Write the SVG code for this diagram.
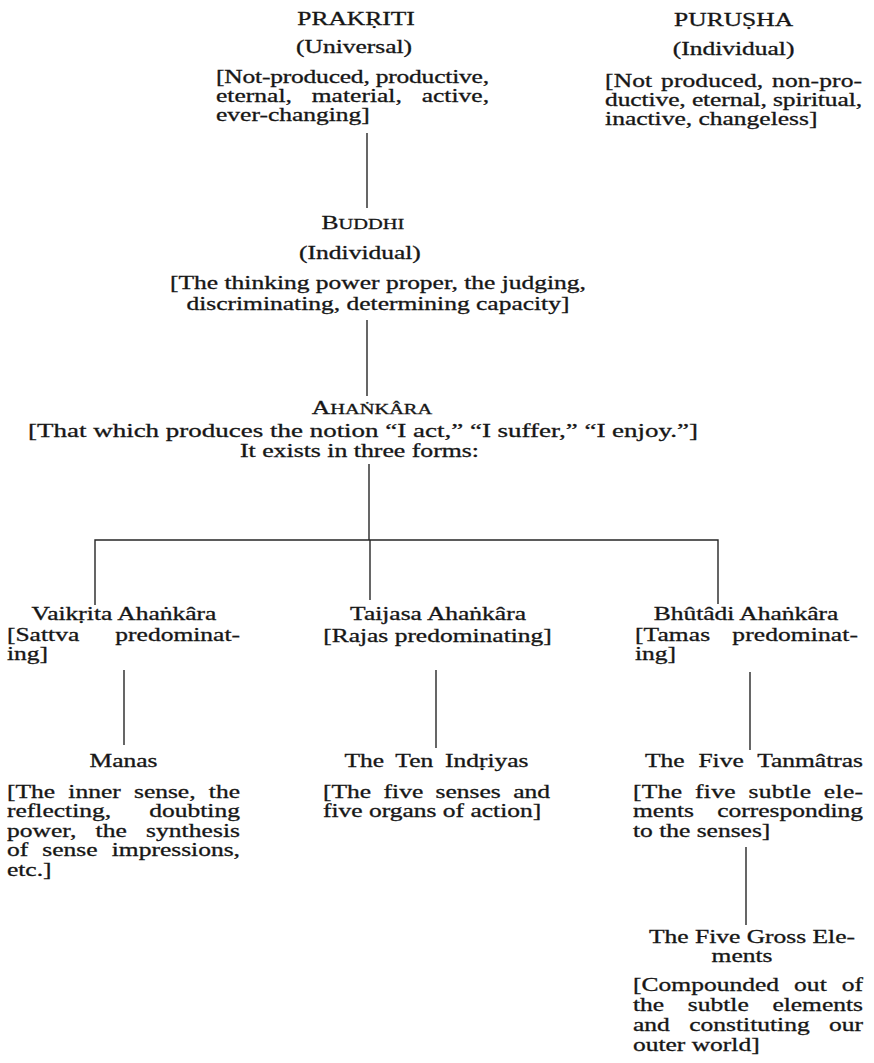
<svg xmlns="http://www.w3.org/2000/svg" width="874" height="1063" viewBox="0 0 874 1063">
<style>
text { font-family: "Liberation Serif", "DejaVu Serif", serif; font-size: 18px; fill: #161616; stroke: #161616; stroke-width: 0.3; }
.c { text-anchor: middle; }
.sc { font-size: 14.4px; }
.cond { font-size: 19px; }
#connectors path { stroke: #262626; stroke-width: 1.4; fill: none; }
</style>
<rect width="874" height="1063" fill="#ffffff"/>
<g id="connectors">
<path d="M367 133V208"/>
<path d="M367 320V396"/>
<path d="M369 464V540"/>
<path d="M95 605V540H718V604"/>
<path d="M370 540V600"/>
<path d="M124 670V745"/>
<path d="M436 670V748"/>
<path d="M750 672V750"/>
<path d="M746 847V925"/>
</g>
<g id="prakriti" transform="scale(1.4167 1)">
<text class="c" x="251.3" y="25">PRAKṚITI</text>
<text class="c" x="249.9" y="53">(Universal)</text>
<text x="152.5" y="83" textLength="192.7" lengthAdjust="spacing">[Not-produced, productive,</text>
<text x="152.5" y="102" textLength="192.7" lengthAdjust="spacing" word-spacing="9.5">eternal, material, active,</text>
<text x="152.5" y="121">ever-changing]</text>
</g>
<g id="purusha" transform="scale(1.4167 1)">
<text class="c" x="517.8" y="26">PURUṢHA</text>
<text class="c" x="517.8" y="55">(Individual)</text>
<text x="427.1" y="87" textLength="181.4" lengthAdjust="spacing" word-spacing="1.6">[Not produced, non-pro-</text>
<text x="427.1" y="106" textLength="181.4" lengthAdjust="spacing">ductive, eternal, spiritual,</text>
<text x="427.1" y="125">inactive, changeless]</text>
</g>
<g id="buddhi" transform="scale(1.4167 1)">
<text class="c" x="256.2" y="229">B<tspan class="sc">UDDHI</tspan></text>
<text class="c" x="254.1" y="259">(Individual)</text>
<text class="c" x="266.8" y="289">[The thinking power proper, the judging,</text>
<text class="c" x="266.8" y="310">discriminating, determining capacity]</text>
</g>
<g id="ahankara" transform="scale(1.4167 1)">
<text class="c" x="262.6" y="414">A<tspan class="sc">HAṄKÂRA</tspan></text>
<text class="cond" x="19.8" y="437" textLength="472.9" lengthAdjust="spacingAndGlyphs">[That which produces the notion “I act,” “I suffer,” “I enjoy.”]</text>
<text x="169.4" y="457" textLength="168.7" lengthAdjust="spacingAndGlyphs">It exists in three forms:</text>
</g>
<g id="vaikrita" transform="scale(1.4167 1)">
<text class="c" x="87.5" y="620">Vaikṛita Ahaṅkâra</text>
<text x="4.9" y="641" textLength="164.5" lengthAdjust="spacing" word-spacing="21">[Sattva predominat-</text>
<text x="4.9" y="660">ing]</text>
</g>
<g id="taijasa" transform="scale(1.4167 1)">
<text class="c" x="309.2" y="620">Taijasa Ahaṅkâra</text>
<text class="c" x="308.8" y="642">[Rajas predominating]</text>
</g>
<g id="bhutadi" transform="scale(1.4167 1)">
<text class="c" x="526.6" y="620">Bhûtâdi Ahaṅkâra</text>
<text x="448.2" y="641" textLength="157.4" lengthAdjust="spacing" word-spacing="11">[Tamas predominat-</text>
<text x="448.2" y="660">ing]</text>
</g>
<g id="manas" transform="scale(1.4167 1)">
<text class="c" x="87.2" y="767">Manas</text>
<text x="4.9" y="798" textLength="164.5" lengthAdjust="spacing" word-spacing="4.9">[The inner sense, the</text>
<text x="4.9" y="817.5" textLength="164.5" lengthAdjust="spacing" word-spacing="22.4">reflecting, doubting</text>
<text x="4.9" y="837" textLength="164.5" lengthAdjust="spacing" word-spacing="9">power, the synthesis</text>
<text x="4.9" y="856.5" textLength="164.5" lengthAdjust="spacing" word-spacing="5.5">of sense impressions,</text>
<text x="4.9" y="876">etc.]</text>
</g>
<g id="indriyas" transform="scale(1.4167 1)">
<text class="c" x="308.1" y="767" word-spacing="3.8">The Ten Indṛiyas</text>
<text x="228" y="798" textLength="160.2" lengthAdjust="spacing" word-spacing="4.2">[The five senses and</text>
<text x="228" y="817.5">five organs of action]</text>
</g>
<g id="tanmatras" transform="scale(1.4167 1)">
<text class="c" x="532.2" y="767" word-spacing="5.3">The Five Tanmâtras</text>
<text x="446.8" y="798" textLength="162.4" lengthAdjust="spacing" word-spacing="4.1">[The five subtle ele-</text>
<text x="446.8" y="817.5" textLength="162.4" lengthAdjust="spacing" word-spacing="11.9">ments corresponding</text>
<text x="446.8" y="837">to the senses]</text>
</g>
<g id="gross-elements" transform="scale(1.4167 1)">
<text class="c" x="530.8" y="943">The Five Gross Ele-</text>
<text class="c" x="523.8" y="962">ments</text>
<text x="446.8" y="991" textLength="162.4" lengthAdjust="spacing" word-spacing="6.1">[Compounded out of</text>
<text x="446.8" y="1011" textLength="162.4" lengthAdjust="spacing" word-spacing="12.2">the subtle elements</text>
<text x="446.8" y="1031" textLength="162.4" lengthAdjust="spacing" word-spacing="9.2">and constituting our</text>
<text x="446.8" y="1051">outer world]</text>
</g>
</svg>
